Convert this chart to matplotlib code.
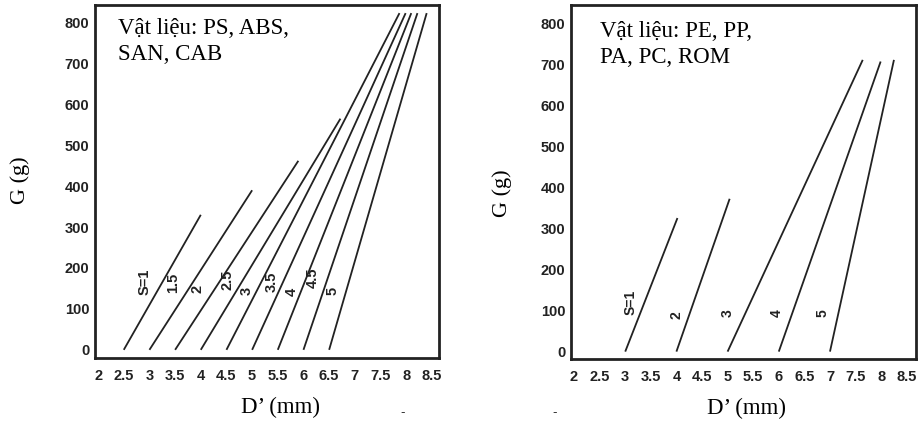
import matplotlib
matplotlib.use("Agg")
import matplotlib.pyplot as plt

# ---------------- data ----------------
# Left panel: PS, ABS, SAN, CAB
left_s_labels = ["S=1", "1.5", "2", "2.5", "3", "3.5", "4", "4.5", "5"]
left_x_start = [2.5, 3.0, 3.5, 4.0, 4.5, 5.0, 5.5, 6.0, 6.5]
left_x_end = [4.0, 5.0, 5.9, 6.72, 7.87, 7.99, 8.10, 8.22, 8.40]
left_g_end = [330, 390, 462, 565, 823, 823, 823, 823, 823]
left_label_x = [2.91, 3.46, 3.93, 4.53, 4.89, 5.38, 5.77, 6.18, 6.57]
left_label_g = [166, 164, 149, 171, 144, 166, 142, 176, 144]

# Right panel: PE, PP, PA, PC, ROM
right_s_labels = ["S=1", "2", "3", "4", "5"]
right_x_start = [3.0, 4.0, 5.0, 6.0, 7.0]
right_x_end = [4.02, 5.04, 7.64, 7.99, 8.25]
right_g_end = [326, 373, 712, 708, 712]
right_label_x = [3.10, 4.0, 5.0, 5.96, 6.85]
right_label_g = [119, 90, 94, 94, 94]

x_ticks = [2, 2.5, 3, 3.5, 4, 4.5, 5, 5.5, 6, 6.5, 7, 7.5, 8, 8.5]
x_tick_labels = ["2", "2.5", "3", "3.5", "4", "4.5", "5", "5.5", "6", "6.5",
                 "7", "7.5", "8", "8.5"]
y_ticks = [0, 100, 200, 300, 400, 500, 600, 700, 800]

left_title = "Vật liệu: PS, ABS,\nSAN, CAB"
right_title = "Vật liệu: PE, PP,\nPA, PC, ROM"
x_label = "D’ (mm)"
y_label = "G (g)"

# ---------------- drawing ----------------
fig = plt.figure(figsize=(9.19, 4.29), dpi=100)
fig.patch.set_facecolor("white")

ax1 = fig.add_axes([0.1034, 0.1655, 0.3743, 0.823])
ax2 = fig.add_axes([0.6213, 0.1632, 0.3754, 0.8252])

serif = "Liberation Serif"
sans = "Liberation Sans"


def setup(ax, xlim, ylim):
    ax.set_xlim(*xlim)
    ax.set_ylim(*ylim)
    ax.set_xticks(x_ticks)
    ax.set_xticklabels(x_tick_labels)
    ax.set_yticks(y_ticks)
    ax.tick_params(length=0, labelsize=10.5)
    ax.tick_params(axis="x", pad=8)
    ax.tick_params(axis="y", pad=4)
    for lab in ax.get_xticklabels() + ax.get_yticklabels():
        lab.set_fontfamily(sans)
        lab.set_fontweight("bold")
        lab.set_color("#222222")
    for sp in ax.spines.values():
        sp.set_linewidth(2.0)
        sp.set_color("#222222")


def draw(ax, xs, xe, ge, labels, lx, lg, fs):
    for x0, x1, g1 in zip(xs, xe, ge):
        ax.plot([x0, x1], [0, g1], color="#222222", lw=1.3,
                solid_capstyle="butt")
    for t, x, g in zip(labels, lx, lg):
        ax.text(x, g, t, rotation=90, ha="center", va="center",
                fontsize=fs, fontfamily=sans, fontweight="bold",
                color="#222222")


setup(ax1, (1.94, 8.64), (-20, 843))
setup(ax2, (1.94, 8.68), (-18, 846))

draw(ax1, left_x_start, left_x_end, left_g_end, left_s_labels,
     left_label_x, left_label_g, 10.5)
draw(ax2, right_x_start, right_x_end, right_g_end, right_s_labels,
     right_label_x, right_label_g, 10)

ax1.text(0.067, 0.962, left_title, transform=ax1.transAxes, ha="left",
         va="top", fontsize=16.5, fontfamily=serif, linespacing=1.3,
         color="black")
ax2.text(0.084, 0.955, right_title, transform=ax2.transAxes, ha="left",
         va="top", fontsize=16.5, fontfamily=serif, linespacing=1.3,
         color="black")

for ax, lx, ly, gx, gy in [(ax1, 0.54, -0.11, -0.19, 0.504),
                           (ax2, 0.51, -0.11, -0.172, 0.469)]:
    ax.set_xlabel(x_label, fontsize=16.5, fontfamily=serif)
    ax.xaxis.set_label_coords(lx, ly)
    ax.set_ylabel(y_label, fontsize=16, fontfamily=serif)
    ax.yaxis.set_label_coords(gx, gy)

# small stray marks
fig.text(403 / 919, 1 - 413 / 429, "-", fontsize=9, ha="center",
         va="center", color="#333333")
fig.text(555 / 919, 1 - 413 / 429, "-", fontsize=9, ha="center",
         va="center", color="#333333")

fig.savefig("out.png", dpi=100, facecolor="white")
